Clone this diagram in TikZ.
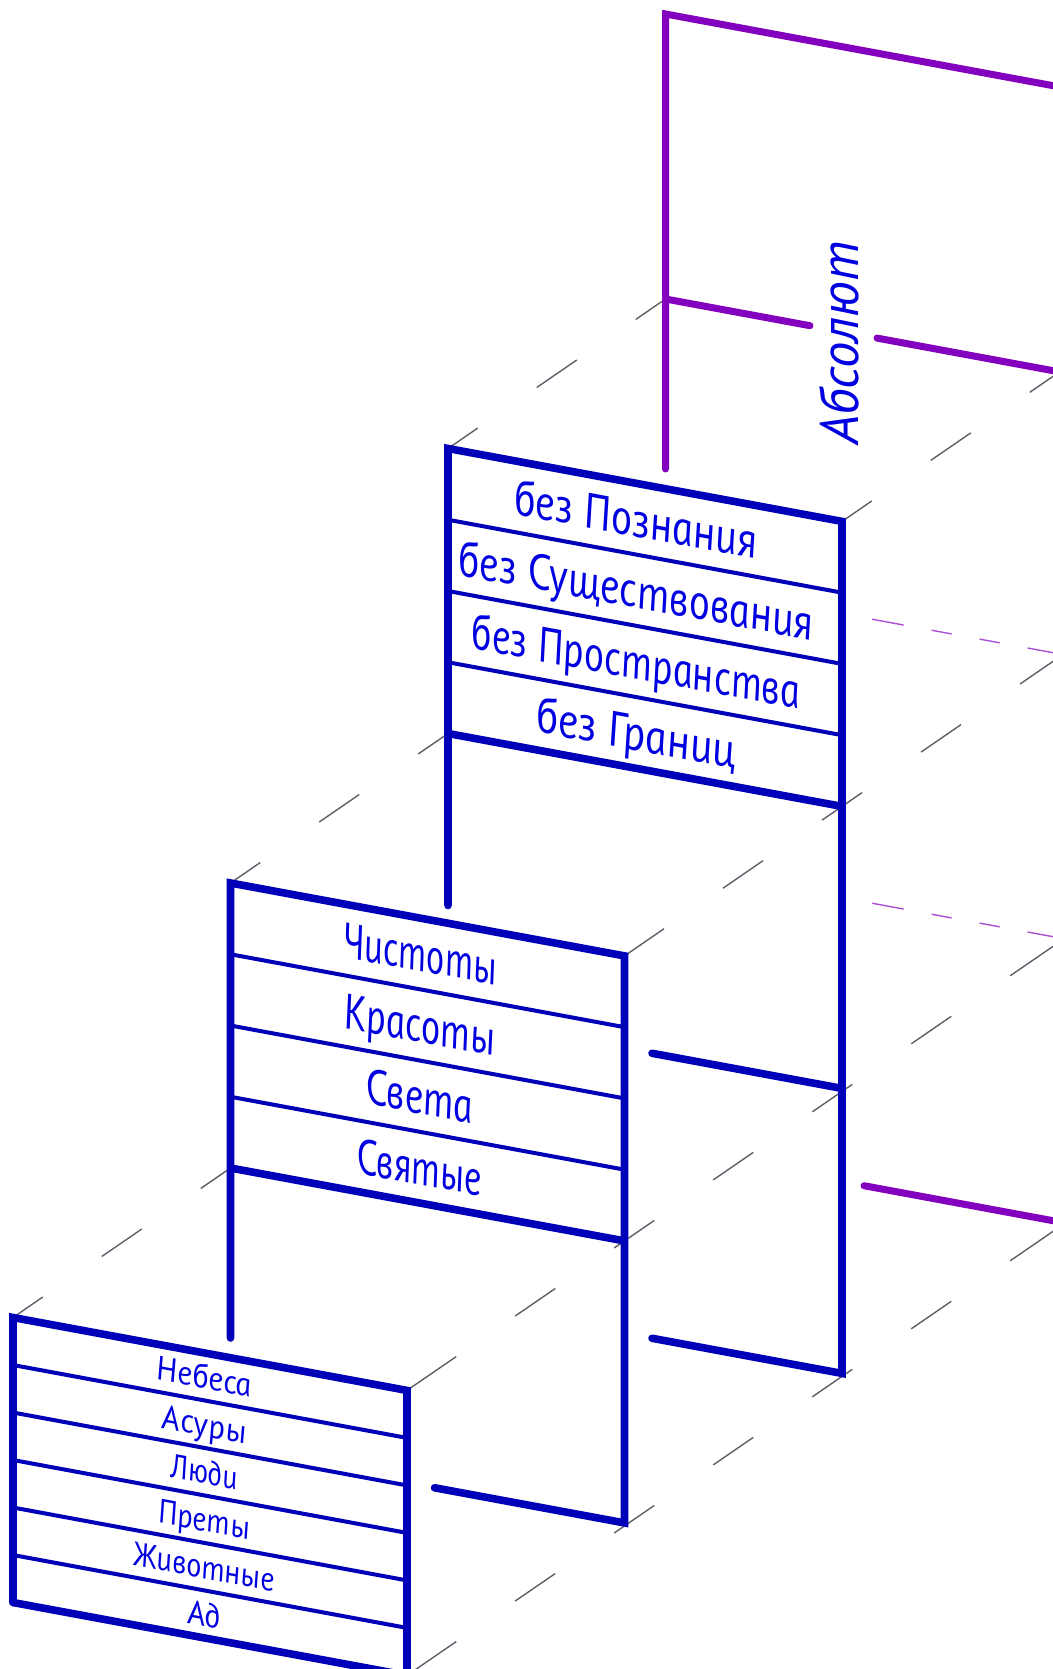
\documentclass[tikz,border=0pt]{standalone}
\usepackage{fontspec}
\setmainfont{PT Sans}
\newfontfamily\gostfont{PT Sans}
\usetikzlibrary{calc}
\definecolor{lineblue}{RGB}{0,0,185}
\definecolor{textblue}{RGB}{0,0,225}
\definecolor{absviolet}{RGB}{130,0,190}
\definecolor{hidviolet}{RGB}{170,80,210}
\definecolor{depthgrey}{RGB}{95,95,105}
\begin{document}
\begin{tikzpicture}[x=0.5pt,y=-0.5pt,
  edge/.style={draw=lineblue,line width=3.8pt,line cap=round,line join=miter},
  rowline/.style={draw=lineblue,line width=2pt},
  absedge/.style={draw=absviolet,line width=3.5pt,line cap=round,line join=miter},
  hiddenedge/.style={draw=hidviolet,line width=0.7pt,
    dash pattern=on 16.1pt off 14.2pt on 10.2pt off 14.2pt on 10.2pt off 14.2pt on 20pt off 5pt},
  depthline/.style={draw=depthgrey,line width=0.7pt},
  depthone/.style={depthline,dash pattern=on 18.05pt off 35.8pt on 24.27pt off 35.8pt on 30pt off 10pt},
  depththree/.style={depthline,dash pattern=on 23.96pt off 35.8pt on 24.27pt off 35.8pt on 24.27pt off 35.8pt on 24.27pt off 35.8pt on 30pt off 10pt},
  depthfive/.style={depthline,dash pattern=on 29.88pt off 35.8pt on 24.27pt off 35.8pt on 24.27pt off 35.8pt on 24.27pt off 35.8pt on 24.27pt off 35.8pt on 24.27pt off 35.8pt on 40pt off 10pt},
  facetext/.style={text=textblue,inner sep=0pt,anchor=base,yslant=-0.185,xslant=-0.12},
  bigrow/.style={facetext,font=\gostfont\itshape\fontsize{25}{30}\selectfont},
  smallrow/.style={facetext,font=\gostfont\itshape\fontsize{17}{20}\selectfont},
  abstext/.style={text=textblue,inner sep=0pt,anchor=base,rotate=90,xscale=0.975,
    font=\gostfont\itshape\fontsize{27}{32}\selectfont}
]
\useasboundingbox (0,0) rectangle (1053,1669);
\fill[white] (0,0) rectangle (1053,1669);
\clip (0,0) rectangle (1053,1669);

% corners
\coordinate (ptl) at (665.5,14);
\coordinate (ptr) at ($(ptl)+(394,72.9)$);
\coordinate (pbl) at ($(ptl)+(0,285)$);
\coordinate (pbr) at ($(ptr)+(0,285)$);
\coordinate (atl) at (448,448.5);
\coordinate (atr) at ($(atl)+(394,72.9)$);
\coordinate (abl) at ($(atl)+(0,285)$);
\coordinate (abr) at ($(atr)+(0,285)$);
\coordinate (btl) at (230.5,883);
\coordinate (btr) at ($(btl)+(394,72.9)$);
\coordinate (bbl) at ($(btl)+(0,285)$);
\coordinate (bbr) at ($(btr)+(0,285)$);
\coordinate (ctl) at (13,1317.5);
\coordinate (ctr) at ($(ctl)+(394,72.9)$);
\coordinate (cbl) at ($(ctl)+(0,285)$);
\coordinate (cbr) at ($(ctr)+(0,285)$);

% depth (grey dashed) lines
\draw[depthone] (ctl) -- (bbl);
\draw[depthone] (btl) -- (abl);
\draw[depthone] (atl) -- (pbl);
\draw[depthone] (atr) -- (pbr);
\draw[depththree] (btr) -- ++(435,-299);
\draw[depthfive] (ctr) -- ++(652.5,-448.5);
\draw[depthfive] (cbr) -- ++(652.5,-448.5);

% purple (Absolute) level
\draw[absedge] ($(pbl)+(0,170)$) -- (ptl) -- ($(ptl)+(420,77.7)$);
\draw[absedge] (pbl) -- ($(pbl)+(144.5,26.7)$);
\draw[absedge] ($(pbl)+(211.5,39.1)$) -- ($(pbl)+(420,77.7)$);
\draw[hiddenedge] ($(ptr)+(-187.5,567-34.7)$) -- ($(ptr)+(0,567)$);
\draw[hiddenedge] ($(ptr)+(-187.5,851-34.7)$) -- ($(ptr)+(0,851)$);
\draw[absedge] ($(ptr)+(-195.5,1135-36.2)$) -- ($(ptr)+(20,1138.7)$);
\node[abstext] (abs) at (858,343) {Абсолют};

% box A (без ...)
\draw[edge] ($(abl)+(0,172)$) -- (atl) -- (atr) -- ($(atr)+(0,852)$) -- ++(-190,-35.15);
\draw[edge] (abl) -- (abr);
\draw[edge] ($(atr)+(-190,567-35.15)$) -- ($(atr)+(0,567)$);
\foreach \i in {1,2,3}
  \draw[rowline] ($(atl)+(0,\i*71.25)$) -- ($(atr)+(0,\i*71.25)$);
\node[bigrow,xscale=0.853] (a1) at (637,536.6) {без Познания};
\node[bigrow,xscale=0.845] (a2) at (637,607.9) {без Существования};
\node[bigrow,xscale=0.81] (a3) at (637,679.1) {без Пространства};
\node[bigrow,xscale=0.877] (a4) at (637,750.4) {без Границ};

% box B
\draw[edge] ($(bbl)+(0,170)$) -- (btl) -- (btr) -- ($(btr)+(0,567)$) -- ++(-190,-35.15);
\draw[edge] (bbl) -- (bbr);
\foreach \i in {1,2,3}
  \draw[rowline] ($(btl)+(0,\i*71.25)$) -- ($(btr)+(0,\i*71.25)$);
\node[bigrow,xscale=0.738] (b1) at (421,971.3) {Чистоты};
\node[bigrow,xscale=0.78] (b2) at (421,1042.6) {Красоты};
\node[bigrow,xscale=0.795] (b3) at (421,1113.8) {Света};
\node[bigrow,xscale=0.755] (b4) at (421,1185.1) {Святые};

% box C
\draw[edge] (cbl) -- (ctl) -- (ctr) -- ($(ctr)+(0,400)$);
\draw[edge] (cbl) -- (cbr);
\foreach \i in {1,...,5}
  \draw[rowline] ($(ctl)+(0,\i*47.5)$) -- ($(ctr)+(0,\i*47.5)$);
\node[smallrow,xscale=0.95] (c1) at (205,1388.7) {Небеса};
\node[smallrow,xscale=0.964] (c2) at (205,1436.2) {Асуры};
\node[smallrow,xscale=0.86] (c3) at (205,1483.7) {Люди};
\node[smallrow,xscale=0.89] (c4) at (205,1531.2) {Преты};
\node[smallrow,xscale=0.897] (c5) at (205,1578.7) {Животные};
\node[smallrow,xscale=0.94] (c6) at (205,1626.2) {Ад};
\end{tikzpicture}
\end{document}
